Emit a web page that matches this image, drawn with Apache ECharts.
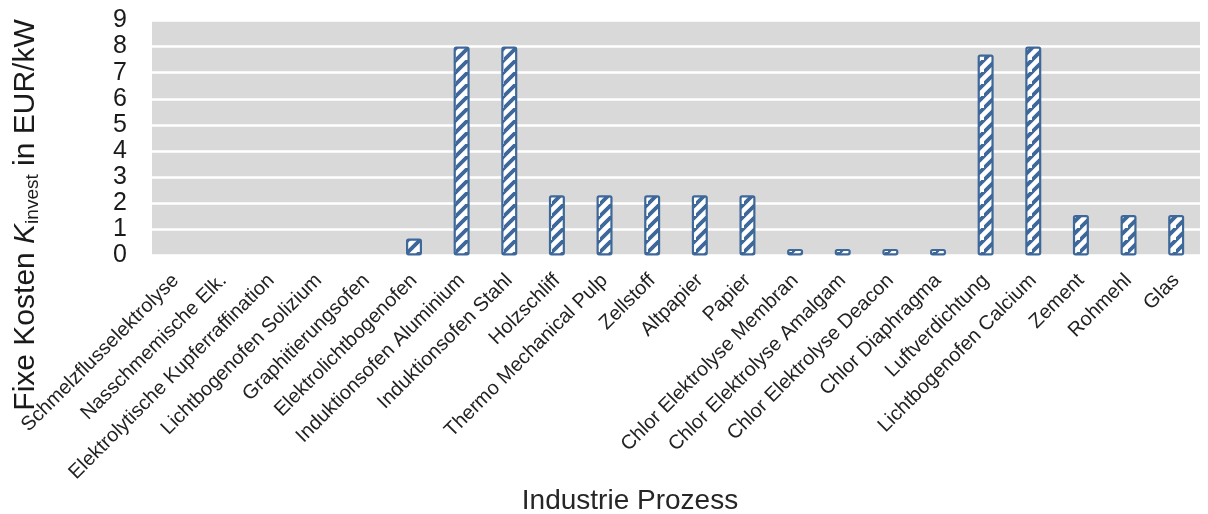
<!DOCTYPE html>
<html>
<head>
<meta charset="utf-8">
<script src="https://cdn.jsdelivr.net/npm/echarts@6/dist/echarts.min.js"></script>
<style>
  html, body { margin: 0; padding: 0; background: #ffffff; }
  #chart { width: 1208px; height: 514px; }
</style>
</head>
<body>
<div id="chart"></div>
<script>
// Industrial processes (x-axis categories)
const categories = [
  'Schmelzflusselektrolyse',
  'Nasschmemische Elk.',
  'Elektrolytische Kupferraffination',
  'Lichtbogenofen Solizium',
  'Graphitierungsofen',
  'Elektrolichtbogenofen',
  'Induktionsofen Aluminium',
  'Induktionsofen Stahl',
  'Holzschliff',
  'Thermo Mechanical Pulp',
  'Zellstoff',
  'Altpapier',
  'Papier',
  'Chlor Elektrolyse Membran',
  'Chlor Elektrolyse Amalgam',
  'Chlor Elektrolyse Deacon',
  'Chlor Diaphragma',
  'Luftverdichtung',
  'Lichtbogenofen Calcium',
  'Zement',
  'Rohmehl',
  'Glas'
];

// Fixed investment cost K_invest in EUR/kW
const fixedCosts = [
  0, 0, 0, 0, 0,
  0.65,
  8.0, 8.0,
  2.3, 2.3, 2.3, 2.3, 2.3,
  0.25, 0.25, 0.25, 0.25,
  7.7, 8.0,
  1.55, 1.55, 1.55
];

// Y-axis ticks
const yTicks = [0, 1, 2, 3, 4, 5, 6, 7, 8, 9];

const barBlue = '#3d6899';

// Hatched fill: white ground with upward diagonal blue stripes
function makeHatch() {
  const s = 12;
  const c = document.createElement('canvas');
  c.width = s; c.height = s;
  const g = c.getContext('2d');
  g.fillStyle = '#ffffff';
  g.fillRect(0, 0, s, s);
  g.strokeStyle = barBlue;
  g.lineWidth = 3.8;
  g.lineCap = 'square';
  g.beginPath();
  g.moveTo(-2, s + 2); g.lineTo(s + 2, -2);
  g.moveTo(-2 - s, s + 2); g.lineTo(2, -2);
  g.moveTo(s - 2, 2 * s + 2); g.lineTo(2 * s + 2, s - 2);
  g.stroke();
  return c;
}

const chart = echarts.init(document.getElementById('chart'), null, { renderer: 'canvas' });

const font = "'Liberation Sans', Arial, sans-serif";

chart.setOption({
  animation: false,
  backgroundColor: '#ffffff',
  grid: {
    left: 152,
    right: 8,
    top: 20.5,
    bottom: 258.6,
    show: true,
    backgroundColor: '#d9d9d9',
    borderWidth: 0,
    containLabel: false,
    outerBoundsMode: 'none'
  },
  xAxis: {
    type: 'category',
    data: categories,
    axisLine: { show: false },
    axisTick: { show: false },
    axisLabel: {
      rotate: 45,
      interval: 0,
      margin: 22,
      fontFamily: font,
      fontSize: 20,
      color: '#222222'
    },
    name: 'Industrie Prozess',
    nameLocation: 'middle',
    nameGap: 232,
    nameTextStyle: {
      fontFamily: font,
      fontSize: 28,
      color: '#262626',
      padding: [0, 92, 0, 0]
    }
  },
  yAxis: {
    type: 'value',
    min: yTicks[0],
    max: yTicks[yTicks.length - 1],
    interval: 1,
    axisLine: { show: false },
    axisTick: { show: false },
    splitLine: { show: true, lineStyle: { color: '#ffffff', width: 2.5 } },
    axisLabel: {
      margin: 25,
      fontFamily: font,
      fontSize: 25,
      color: '#1a1a1a',
      formatter: v => (yTicks.indexOf(v) >= 0 ? String(v) : '')
    },
    name: 'Fixe Kosten {k|K}{s|invest} in EUR/kW',
    nameLocation: 'middle',
    nameRotate: 90,
    nameGap: 110,
    nameTextStyle: {
      fontFamily: font,
      fontSize: 30,
      color: '#1a1a1a',
      padding: [0, 154, 0, 0],
      rich: {
        k: { fontFamily: font, fontSize: 30, fontStyle: 'italic', color: '#1a1a1a' },
        s: { fontFamily: font, fontSize: 19, color: '#1a1a1a', padding: [14, 0, 0, 0], verticalAlign: 'bottom' }
      }
    }
  },
  series: [{
    type: 'bar',
    // zero-cost processes get no visible bar
    data: fixedCosts.map(v => (v > 0 ? v : null)),
    barWidth: 16,
    itemStyle: {
      color: { image: makeHatch(), repeat: 'repeat' },
      borderColor: barBlue,
      borderWidth: 2.2,
      borderRadius: 1.5
    },
    emphasis: { disabled: true }
  }]
});
</script>
</body>
</html>
